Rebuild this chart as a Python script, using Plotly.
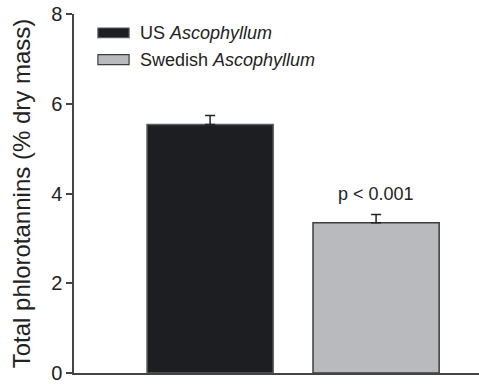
import plotly.graph_objects as go

categories = ["US Ascophyllum", "Swedish Ascophyllum"]
legend_labels = ["US <i>Ascophyllum</i>", "Swedish <i>Ascophyllum</i>"]
values = [5.54, 3.35]
errors = [0.2, 0.18]
bar_colors = ["#1d1e22", "#b9babe"]
line_colors = ["#5a5b5e", "#3c3d40"]
p_text = "p < 0.001"
p_y = 4.0
y_ticks = [0, 2, 4, 6, 8]

FONT = "Liberation Sans, Arial, sans-serif"
TXT = "#222222"

fig = go.Figure()
for i, c in enumerate(categories):
    fig.add_trace(go.Bar(
        x=[c], y=[values[i]],
        width=0.76,
        marker=dict(color=bar_colors[i], line=dict(color=line_colors[i], width=1.5)),
        error_y=dict(type="data", symmetric=False, array=[errors[i]], arrayminus=[0],
                     color="#222222", thickness=1.5, width=5),
        showlegend=False,
    ))

fig.add_annotation(x=categories[1], y=p_y, text=p_text, showarrow=False,
                   font=dict(family=FONT, size=18, color=TXT), xanchor="center", yanchor="middle")

# legend drawn manually
sw_y = [(0.934, 0.961), (0.859, 0.887)]
txt_y = [0.9475, 0.873]
for i in range(2):
    fig.add_shape(type="rect", xref="paper", yref="paper",
                  x0=0.059, x1=0.136, y0=sw_y[i][0], y1=sw_y[i][1],
                  fillcolor=bar_colors[i], line=dict(color=line_colors[i], width=1.2))
    fig.add_annotation(xref="paper", yref="paper", x=0.158, y=txt_y[i], text=legend_labels[i],
                       showarrow=False, xanchor="left", yanchor="middle",
                       font=dict(family=FONT, size=18, color=TXT))

fig.update_layout(
    width=479, height=384,
    margin=dict(l=74, r=0, t=14, b=8),
    paper_bgcolor="white", plot_bgcolor="white",
    font=dict(family=FONT, color=TXT),
    xaxis=dict(type="category", range=[-0.82, 1.62], showticklabels=False, ticks="",
               showline=True, linecolor="#444444", linewidth=1.5, showgrid=False, zeroline=False),
    yaxis=dict(range=[0, 8], tickvals=y_ticks, ticks="outside", ticklen=6, tickwidth=1.5,
               tickcolor="#444444", showline=True, linecolor="#444444", linewidth=1.5,
               showgrid=False, zeroline=False, ticklabeloverflow="allow",
               tickfont=dict(family=FONT, size=20, color=TXT),
               title=dict(text="Total phlorotannins (% dry mass)", standoff=14,
                          font=dict(family=FONT, size=24, color=TXT))),
)

fig.write_html("out.html", config={"displayModeBar": False},
               post_script="document.body.style.margin='0';document.body.style.overflow='hidden';")
